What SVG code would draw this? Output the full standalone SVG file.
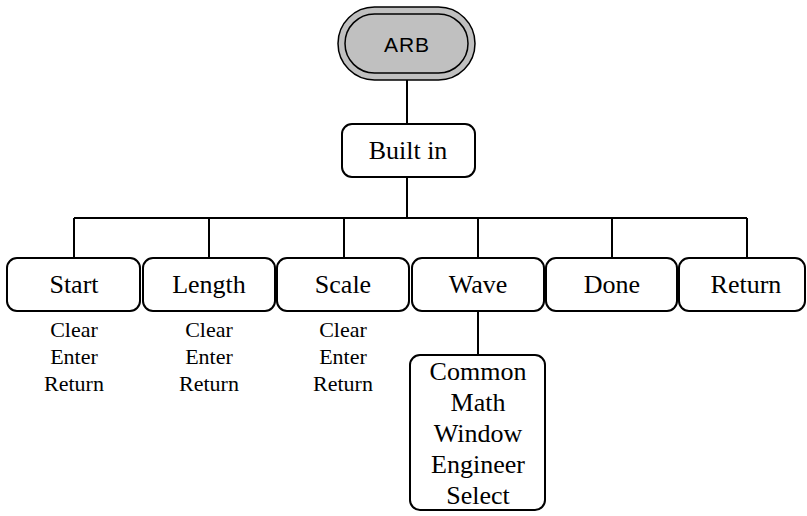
<svg xmlns="http://www.w3.org/2000/svg" width="807" height="516" viewBox="0 0 807 516">
<style>
.box{fill:#fff;stroke:#000;stroke-width:2}
.lbl{font-family:"Liberation Serif","Times New Roman",serif;font-size:26px;text-anchor:middle;fill:#000}
.sub{font-family:"Liberation Serif","Times New Roman",serif;font-size:22px;text-anchor:middle;fill:#000}
.ln{fill:none;stroke:#000;stroke-width:2}
</style>
<rect width="807" height="516" fill="#fff"/>
<g id="connectors">
<path class="ln" d="M407 80V124M407 177V218M74 218H747M74 218V258M209 218V258M344 218V258M478 218V258M612 218V258M747 218V258M478 311V355"/>
</g>
<g id="arb">
<rect x="338" y="7" width="137" height="73" rx="36.5" fill="#c0c0c0" stroke="#000" stroke-width="1.5"/>
<rect x="345" y="14" width="123" height="59" rx="29.5" fill="#c0c0c0" stroke="#000" stroke-width="1.5"/>
<text x="407" y="52" font-family="Liberation Sans,Arial,sans-serif" font-size="21" text-anchor="middle" letter-spacing="1">ARB</text>
</g>
<g id="builtin">
<rect class="box" x="342" y="124" width="133" height="53" rx="10"/>
<text class="lbl" x="408" y="159">Built in</text>
</g>
<g id="start">
<rect class="box" x="7" y="258" width="133" height="53" rx="10"/>
<text class="lbl" x="74" y="293">Start</text>
<text class="sub" x="74" y="337">Clear</text>
<text class="sub" x="74" y="364">Enter</text>
<text class="sub" x="74" y="391">Return</text>
</g>
<g id="length">
<rect class="box" x="143" y="258" width="132" height="53" rx="10"/>
<text class="lbl" x="209" y="293">Length</text>
<text class="sub" x="209" y="337">Clear</text>
<text class="sub" x="209" y="364">Enter</text>
<text class="sub" x="209" y="391">Return</text>
</g>
<g id="scale">
<rect class="box" x="277" y="258" width="132" height="53" rx="10"/>
<text class="lbl" x="343" y="293">Scale</text>
<text class="sub" x="343" y="337">Clear</text>
<text class="sub" x="343" y="364">Enter</text>
<text class="sub" x="343" y="391">Return</text>
</g>
<g id="wave">
<rect class="box" x="412" y="258" width="132" height="53" rx="10"/>
<text class="lbl" x="478" y="293">Wave</text>
</g>
<g id="done">
<rect class="box" x="546" y="258" width="131" height="53" rx="10"/>
<text class="lbl" x="612" y="293">Done</text>
</g>
<g id="return">
<rect class="box" x="679" y="258" width="126" height="53" rx="10"/>
<text class="lbl" x="746" y="293">Return</text>
</g>
<g id="wavelist">
<rect class="box" x="410" y="355" width="135" height="155" rx="10"/>
<text class="lbl" x="478" y="380">Common</text>
<text class="lbl" x="478" y="411">Math</text>
<text class="lbl" x="478" y="442">Window</text>
<text class="lbl" x="478" y="473">Engineer</text>
<text class="lbl" x="478" y="504">Select</text>
</g>
</svg>
